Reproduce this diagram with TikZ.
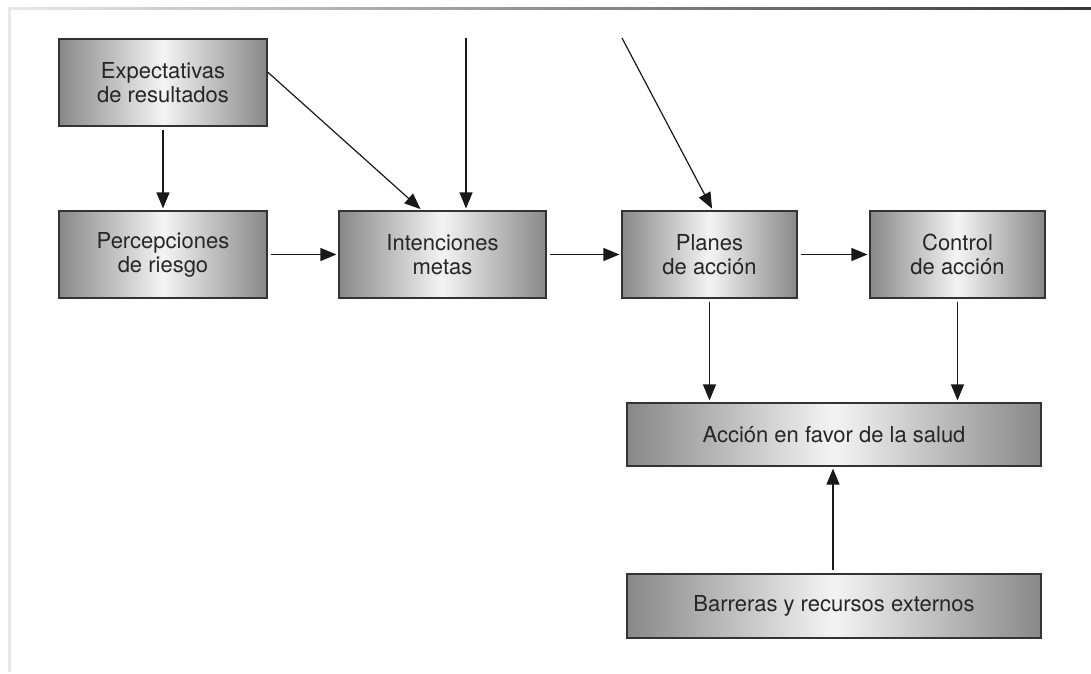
\documentclass[tikz,border=0pt]{standalone}
\usepackage{fontspec}
\setmainfont{TeX Gyre Heros}
\usetikzlibrary{arrows.meta,calc}
\definecolor{boxedge}{HTML}{888888}
\definecolor{boxmid}{HTML}{F4F4F4}
\definecolor{boxline}{HTML}{333333}
\definecolor{txt}{HTML}{262626}
\tikzset{
  blk/.style={rectangle, draw=boxline, line width=1.2pt, shading=axis,
    left color=boxedge, right color=boxedge, middle color=boxmid,
    align=center, text=txt, inner sep=0pt,
    font=\fontsize{22}{24}\selectfont},
  arr/.style={draw=black!90, line width=1.2pt,
    -{Triangle[length=16pt,width=13pt]}, shorten >=2pt, shorten <=3pt}
}
\begin{document}
\begin{tikzpicture}[x=1pt,y=-1pt]
\useasboundingbox (0,0) rectangle (1091,673);
% frame
\shade[left color=gray!18, middle color=gray!55, right color=black!78] (8,7) rectangle (1091,9.6);
\fill[gray!18] (8,7) rectangle (11,672);
% boxes
\node[blk, minimum width=208pt, minimum height=87pt] (exp) at (163,82.5) {Expectativas\\de resultados};
\node[blk, minimum width=208pt, minimum height=87pt] (per) at (163,254.5) {Percepciones\\de riesgo};
\node[blk, minimum width=207pt, minimum height=87pt] (int) at (442.5,254.5) {Intenciones\\metas};
\node[blk, minimum width=175pt, minimum height=87pt] (pla) at (709.5,254.5) {Planes\\de acción};
\node[blk, minimum width=175pt, minimum height=87pt] (con) at (957.5,254.5) {Control\\de acción};
\node[blk, minimum width=414pt, minimum height=63pt] (acc) at (834,434.5) {Acción en favor de la salud};
\node[blk, minimum width=414pt, minimum height=64pt] (bar) at (834,606) {Barreras y recursos externos};
% free ends
\coordinate (t1) at (466,38);
\coordinate (t2) at (622,38);
% connectors
\draw[arr] (exp.south) -- (per.north);
\draw[arr, shorten <=0pt] ([yshift=10.5pt]exp.east) -- ([xshift=-20.5pt]int.north);
\draw[arr, shorten <=0pt] (t1) -- (t1 |- int.north);
\draw[arr, shorten <=0pt] (t2) -- ([xshift=3.5pt]pla.north);
\draw[arr] (per.east) -- (int.west);
\draw[arr] (int.east) -- (pla.west);
\draw[arr] (pla.east) -- (con.west);
\draw[arr] (pla.south) -- (pla.south |- acc.north);
\draw[arr] (con.south) -- (con.south |- acc.north);
\draw[arr] ([xshift=-1pt]bar.north) -- ([xshift=-1pt]acc.south);
\end{tikzpicture}
\end{document}
